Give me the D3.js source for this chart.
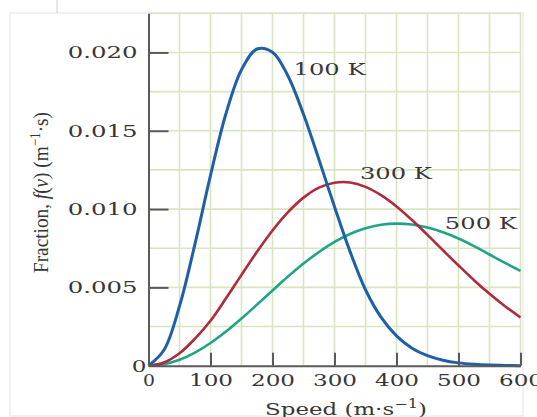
<!DOCTYPE html>
<html>
<head>
<meta charset="utf-8">
<script src="https://cdn.jsdelivr.net/npm/d3@7/dist/d3.min.js"></script>
<style>
  body { margin: 0; background: #fff; }
  svg text { font-family: "DejaVu Serif", "Liberation Serif", serif; fill: #363636; }
  svg text.y-title { font-family: "Liberation Serif", "DejaVu Serif", serif; }
</style>
</head>
<body>
<svg id="chart" width="537" height="417"></svg>
<script>
// speeds in m/s
const speeds = [0, 25, 50, 75, 100, 125, 150, 175, 200, 225, 250, 275, 300,
                325, 350, 375, 400, 425, 450, 475, 500, 525, 550, 575, 600];
const f100 = [0, 0.00100, 0.00380, 0.00778, 0.01215, 0.01610, 0.01890, 0.02022, 0.02002,
              0.01850, 0.01605, 0.01315, 0.01015, 0.00730, 0.00485, 0.00310, 0.00190,
              0.00112, 0.00064, 0.00035, 0.00018, 0.00009, 0.00004, 0.00002, 0];
const f300 = [0, 0.00020, 0.00079, 0.00173, 0.00287, 0.00430, 0.00580, 0.00727, 0.00863,
              0.00980, 0.01073, 0.01137, 0.01168, 0.01170, 0.01142, 0.01089, 0.01017,
              0.00930, 0.00835, 0.00737, 0.00640, 0.00546, 0.00459, 0.00380, 0.00308];
const f500 = [0, 0.00010, 0.00038, 0.00084, 0.00145, 0.00218, 0.00301, 0.00390, 0.00480,
              0.00569, 0.00652, 0.00726, 0.00790, 0.00841, 0.00878, 0.00900, 0.00907,
              0.00901, 0.00882, 0.00852, 0.00812, 0.00764, 0.00710, 0.00656, 0.00605];
const seriesNames = ['500 K', '300 K', '100 K'];
const xTicks = [0, 100, 200, 300, 400, 500, 600];
const yTicks = [0, 0.005, 0.010, 0.015, 0.020];

const svg = d3.select('#chart');
const margin = { top: 13.3, left: 148.5 };
const innerWidth = 372;
const innerHeight = 352.4;

// faint frame of the original picture
svg.append('rect')
    .attr('x', 10).attr('y', 13).attr('width', 513).attr('height', 403)
    .attr('fill', 'none').attr('stroke', '#e4e4e4');
svg.append('line')
    .attr('x1', 57).attr('x2', 57).attr('y1', 0).attr('y2', 13)
    .attr('stroke', '#cfcfcf');

const g = svg.append('g')
    .attr('transform', 'translate(' + margin.left + ',' + margin.top + ')');

const xScale = d3.scaleLinear().domain([0, 600]).range([0, innerWidth]);
const yScale = d3.scaleLinear().domain([0, 0.0225]).range([innerHeight, 0]);

// grid
g.append('g').selectAll('line')
    .data(d3.range(50, 601, 50))
    .enter().append('line')
    .attr('x1', d => xScale(d)).attr('x2', d => xScale(d))
    .attr('y1', 0).attr('y2', innerHeight)
    .attr('stroke', '#d8e5bf').attr('stroke-width', 1.6);
g.append('g').selectAll('line')
    .data(d3.range(1, 10).map(i => i * 0.0025))
    .enter().append('line')
    .attr('y1', d => yScale(d)).attr('y2', d => yScale(d))
    .attr('x1', 0).attr('x2', innerWidth)
    .attr('stroke', '#d8e5bf').attr('stroke-width', 1.6);

// the scanned figure has horizontally stretched lettering:
// widen each label around its anchor point
const labelWidth = s => s.split('').reduce((w, c) => w + (c === '.' ? 11 : 14.7), 0);
function stretch(sel, widthOf) {
    sel.each(function(d) {
        const t = d3.select(this);
        const x = +t.attr('x') || 0;
        const y = +t.attr('y') || 0;
        const sx = widthOf(d, t.text()) / this.getComputedTextLength();
        t.attr('x', 0).attr('y', 0)
            .attr('transform', 'translate(' + x + ',' + y + ') scale(' + sx + ',1)');
    });
}

// curves
const colors = { '100 K': '#1f5fa8', '300 K': '#ae2a3c', '500 K': '#1fa585' };
const values = { '100 K': f100, '300 K': f300, '500 K': f500 };
const line = d3.line()
    .x(d => xScale(d[0]))
    .y(d => yScale(d[1]))
    .curve(d3.curveCatmullRom.alpha(0.5));

seriesNames.forEach(name => {
    g.append('path')
        .datum(speeds.map((s, i) => [s, values[name][i]]))
        .attr('fill', 'none')
        .attr('stroke', colors[name])
        .attr('stroke-width', name === '100 K' ? 3 : 2.6)
        .attr('d', line);
});

// axes
const yAxis = d3.axisLeft(yScale)
    .tickValues(yTicks)
    .tickFormat(d => d === 0 ? '0' : d3.format('.3f')(d))
    .tickSizeInner(-20)
    .tickSizeOuter(0)
    .tickPadding(11);
const gY = g.append('g').call(yAxis)
    .attr('font-family', null).attr('font-size', null);
gY.select('.domain').attr('stroke', '#5a5a5a').attr('stroke-width', 2);
gY.selectAll('.tick line').attr('stroke', '#5a5a5a').attr('stroke-width', 2)
    .filter(d => d === 0).remove();
gY.selectAll('.tick text')
    .style('font-size', '17px')
    .attr('fill', '#363636');
gY.selectAll('.tick text').filter(d => d === 0).attr('x', -2);
stretch(gY.selectAll('.tick text'), (d, s) => labelWidth(s));

const xAxis = d3.axisBottom(xScale)
    .tickValues(xTicks)
    .tickSizeInner(-13)
    .tickSizeOuter(0)
    .tickPadding(8);
const gX = g.append('g')
    .attr('transform', 'translate(0,' + innerHeight + ')')
    .call(xAxis)
    .attr('font-family', null).attr('font-size', null);
gX.select('.domain').attr('stroke', '#5a5a5a').attr('stroke-width', 2);
gX.selectAll('.tick line').attr('stroke', '#5a5a5a').attr('stroke-width', 2)
    .filter(d => d === 0).remove();
gX.selectAll('.tick text')
    .style('font-size', '17px')
    .attr('fill', '#363636');
stretch(gX.selectAll('.tick text'), (d, s) => d === 0 ? 12 : labelWidth(s));

// curve labels
const curveLabels = [
    { name: '100 K', v: 234, f: 0.01855 },
    { name: '300 K', v: 341, f: 0.01195 },
    { name: '500 K', v: 478, f: 0.00875 }
];
const cl = g.selectAll('.curve-label')
    .data(curveLabels)
    .enter().append('text')
    .attr('class', 'curve-label')
    .attr('x', d => xScale(d.v))
    .attr('y', d => yScale(d.f))
    .style('font-size', '17px')
    .text(d => d.name);
stretch(cl, () => 72);

// axis titles
const xTitle = svg.append('text')
    .attr('x', 346).attr('y', 414.5)
    .attr('text-anchor', 'middle')
    .style('font-size', '17px');
xTitle.append('tspan').text('Speed (m·s');
xTitle.append('tspan').attr('dy', -7).style('font-size', '12px').text('−1');
xTitle.append('tspan').attr('dy', 7).text(')');
stretch(xTitle, () => 162);

const yTitle = svg.append('text')
    .attr('class', 'y-title')
    .attr('transform', 'translate(48,192.5) rotate(-90)')
    .attr('text-anchor', 'middle')
    .style('font-size', '22px')
    .attr('textLength', 161)
    .attr('lengthAdjust', 'spacingAndGlyphs');
yTitle.append('tspan').text('Fraction, ');
yTitle.append('tspan').style('font-style', 'italic').text('f');
yTitle.append('tspan').text('(');
yTitle.append('tspan').style('font-style', 'italic').text('v');
yTitle.append('tspan').text(') (m');
yTitle.append('tspan').attr('dy', -8).style('font-size', '15px').text('−1');
yTitle.append('tspan').attr('dy', 8).text('·s)');
</script>
</body>
</html>
